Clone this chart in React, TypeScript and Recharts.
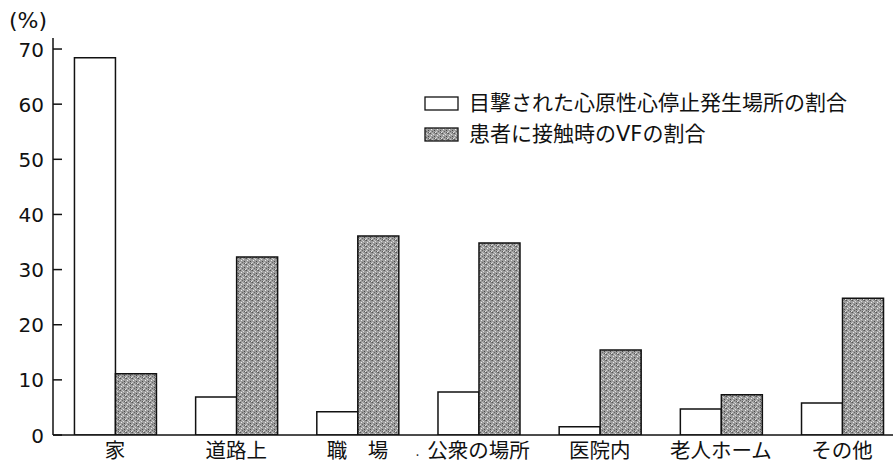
import React from 'react';
import { BarChart, Bar, XAxis, YAxis } from 'recharts';

const categories = ['家', '道路上', '職　場', '公衆の場所', '医院内', '老人ホーム', 'その他'];
const witnessed = [68.4, 6.9, 4.2, 7.8, 1.5, 4.7, 5.8];
const vfOnContact = [11.1, 32.3, 36.1, 34.8, 15.4, 7.3, 24.8];
const yTicks = [0, 10, 20, 30, 40, 50, 60, 70];
const seriesNames = ['目撃された心原性心停止発生場所の割合', '患者に接触時のVFの割合'];

const data = categories.map((name, i) => ({
  i,
  name,
  witnessed: witnessed[i],
  vf: vfOnContact[i],
}));

const FONT = '"DejaVu Sans", "Noto Sans CJK JP", sans-serif';
const JP_FONT = '"Noto Sans CJK JP", sans-serif';
const AXIS_X = 53;

// y ticks point inward (right of the axis line), labels right-aligned
const YTick = (props: any) => {
  const { y, payload } = props;
  return (
    <g>
      <line x1={AXIS_X} x2={AXIS_X + 9} y1={y} y2={y} stroke="#111" strokeWidth={1.5} />
      <text x={AXIS_X - 9} y={y} dy={7.5} textAnchor="end" fontSize={20} fill="#111" fontFamily={FONT}>
        {payload.value}
      </text>
    </g>
  );
};

const XTick = (props: any) => {
  const { x, y, payload } = props;
  const label = categories[payload.value];
  return (
    <g>
      <text x={x} y={y} dy={15} textAnchor="middle" fontSize={20.5} fill="#111" fontFamily={JP_FONT}>
        {label}
      </text>
      {payload.value === 2 && (
        <text x={x + 60} y={y} dy={13} textAnchor="middle" fontSize={14} fill="#333" fontFamily={FONT}>
          .
        </text>
      )}
    </g>
  );
};

const LegendBox = () => (
  <div
    style={{
      position: 'absolute',
      left: 424,
      top: 88,
      fontFamily: FONT,
      fontSize: 21,
      color: '#111',
      lineHeight: '31px',
      whiteSpace: 'nowrap',
    }}
  >
    <div style={{ display: 'flex', alignItems: 'center' }}>
      <svg width={35} height={15} style={{ marginRight: 10 }}>
        <rect x={1} y={1} width={33} height={13} fill="#fff" stroke="#111" strokeWidth={1.3} />
      </svg>
      {seriesNames[0]}
    </div>
    <div style={{ display: 'flex', alignItems: 'center' }}>
      <svg width={35} height={15} style={{ marginRight: 10 }}>
        <rect x={1} y={1} width={33} height={13} fill="url(#stipple)" stroke="#111" strokeWidth={1.3} />
      </svg>
      {seriesNames[1]}
    </div>
  </div>
);

const Stipple = () => (
  <svg width={0} height={0} style={{ position: 'absolute' }}>
    <defs>
      <pattern id="stipple" width={6} height={6} patternUnits="userSpaceOnUse">
        <rect width={6} height={6} fill="#9c9c9c" />
        <rect x={0} y={0} width={1} height={1} fill="#555" />
        <rect x={3} y={1} width={1} height={1} fill="#ddd" />
        <rect x={1} y={2} width={1} height={1} fill="#ececec" />
        <rect x={4} y={3} width={1} height={1} fill="#4a4a4a" />
        <rect x={2} y={4} width={1} height={1} fill="#666" />
        <rect x={5} y={5} width={1} height={1} fill="#e4e4e4" />
        <rect x={0} y={4} width={1} height={1} fill="#d0d0d0" />
        <rect x={5} y={0} width={1} height={1} fill="#777" />
        <rect x={2} y={0} width={1} height={1} fill="#c8c8c8" />
        <rect x={4} y={5} width={1} height={1} fill="#5e5e5e" />
      </pattern>
    </defs>
  </svg>
);

export default function App() {
  return (
    <div style={{ position: 'absolute', left: 0, top: 0, width: 893, height: 464, background: '#fff' }}>
      <Stipple />
      <div style={{ position: 'absolute', left: 9, top: 8, fontFamily: FONT, fontSize: 22, color: '#111' }}>
        (%)
      </div>
      <BarChart
        width={893}
        height={464}
        data={data}
        margin={{ top: 38, right: 0, bottom: 0, left: 0 }}
        barGap={0}
      >
        <XAxis
          type="number"
          dataKey="i"
          domain={[-0.512, 6.42]}
          ticks={[0, 1, 2, 3, 4, 5, 6]}
          allowDataOverflow
          tickLine={false}
          axisLine={{ stroke: '#111', strokeWidth: 1.5 }}
          tick={<XTick />}
          height={29}
        />
        <YAxis
          domain={[0, 72]}
          ticks={yTicks}
          allowDataOverflow
          width={AXIS_X}
          tickLine={false}
          axisLine={{ stroke: '#111', strokeWidth: 1.5 }}
          tick={<YTick />}
        />
        <Bar
          dataKey="witnessed"
          name={seriesNames[0]}
          fill="#fff"
          stroke="#111"
          strokeWidth={1.5}
          barSize={41}
          isAnimationActive={false}
        />
        <Bar
          dataKey="vf"
          name={seriesNames[1]}
          fill="url(#stipple)"
          stroke="#111"
          strokeWidth={1.5}
          barSize={41}
          isAnimationActive={false}
        />
      </BarChart>
      <LegendBox />
    </div>
  );
}
